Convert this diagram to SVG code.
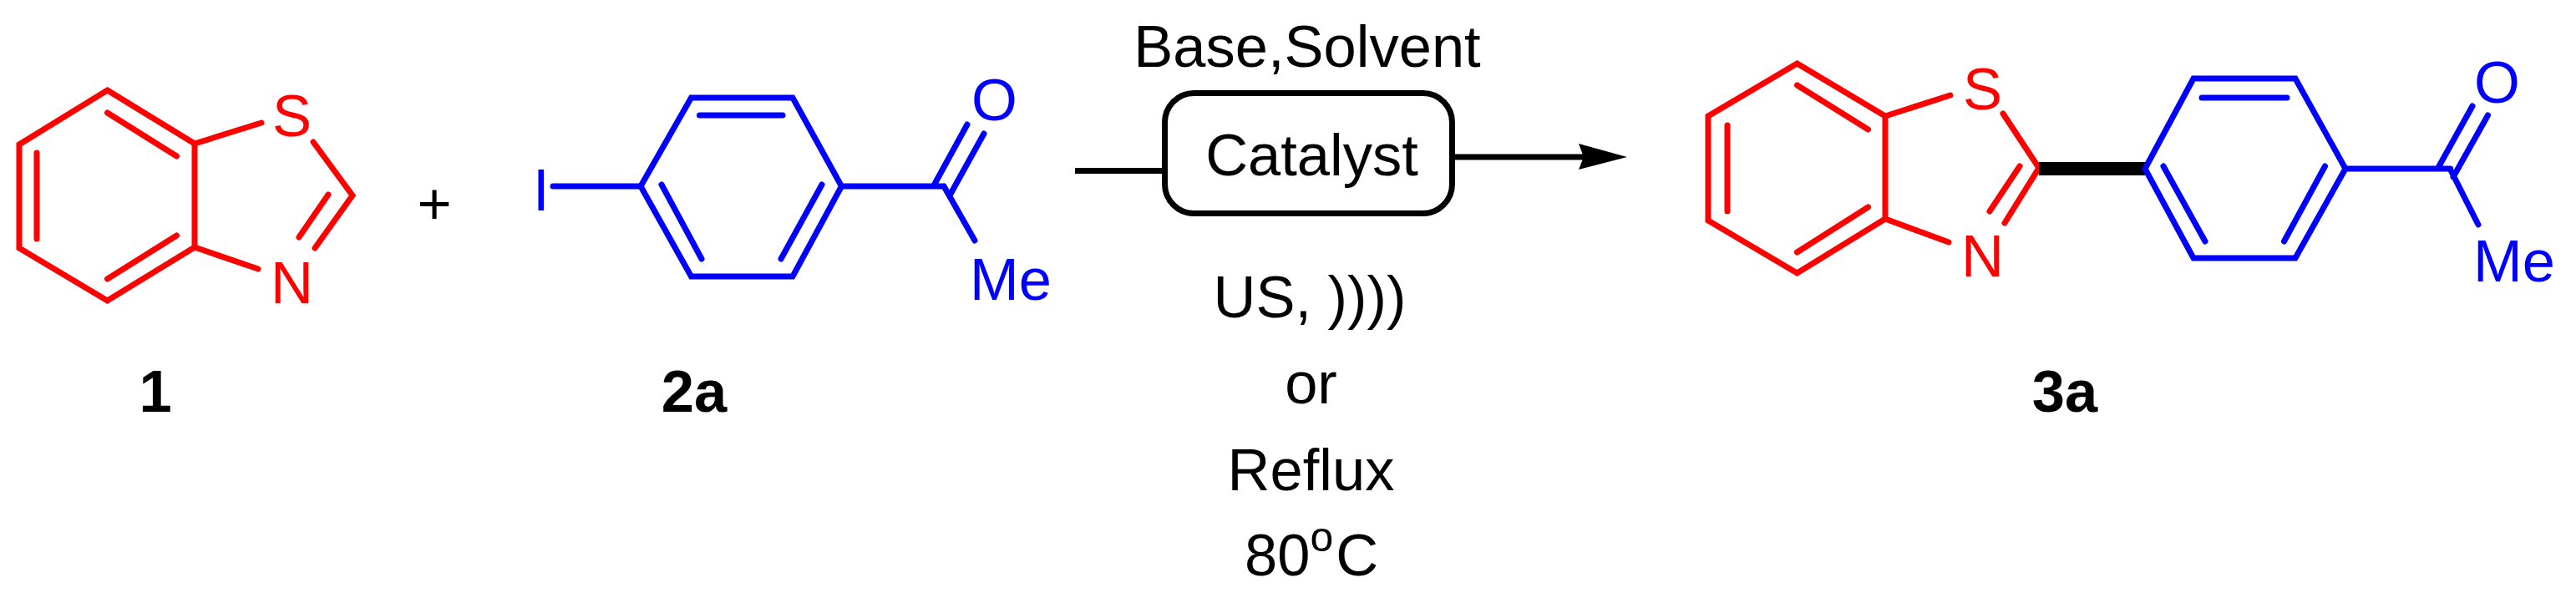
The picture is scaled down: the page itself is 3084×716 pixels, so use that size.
<svg xmlns="http://www.w3.org/2000/svg" width="3084" height="716" viewBox="0 0 3084 716">
<style>
.t{font-family:"Liberation Sans",Arial,sans-serif;font-size:70.5px;fill:#000}
.b{font-weight:bold}
.red .t{fill:#f00}
.blue .t{fill:#00f}
.m{text-anchor:middle}
.s{fill:none;stroke-width:7;stroke-linecap:round;stroke-linejoin:miter}
.red .s{stroke:#f00}
.blue .s{stroke:#00f}
.c{fill:none;stroke:#000;stroke-width:7}
</style>
<defs>
<marker id="arrow" markerUnits="userSpaceOnUse" markerWidth="60" markerHeight="34" refX="10" refY="16" orient="auto">
<path d="M0 0L58 16L0 31L6 16Z" fill="#000"/>
</marker>
</defs>
<rect width="3084" height="716" fill="#fff"/>
<g id="compound-1" class="red">
<path class="s" d="M128.5 108L233 172V296L128.5 360L23 297V173Z"/>
<path class="s" d="M128.5 135L211.5 187M211.5 282L128.5 334M44 183V286M233 172L313 147M233 296L309 322M375 170L422 234L377 297M393 233L358 284"/>
<text class="t" x="326" y="163">S</text>
<text class="t" x="324" y="363">N</text>
</g>
<g id="plus"><text class="t m" x="520" y="268">+</text></g>
<g id="compound-2a" class="blue">
<path class="s" d="M767 223L827.5 117H949L1007.5 223L949 331H827.5Z"/>
<path class="s" d="M837.5 138H937M792 221L840 310M984 221L935 310M662 223H767M1007.5 223H1130M1158 149L1118 222M1178 160L1137 234M1130 223L1167 288"/>
<text class="t" x="638" y="252">I</text>
<text class="t" x="1163" y="144">O</text>
<text class="t" x="1161" y="359">Me</text>
</g>
<g id="label-1"><text class="t b m" x="186" y="493">1</text></g>
<g id="label-2a"><text class="t b m" x="831" y="493">2a</text></g>
<g id="catalyst">
<rect class="c" x="1394.5" y="111.5" width="344" height="144" rx="35" ry="35"/>
<text class="t m" x="1570.5" y="210">Catalyst</text>
</g>
<g id="connectors">
<line class="c" x1="1287" y1="204.5" x2="1394" y2="204.5"/>
<line class="c" x1="1739" y1="188" x2="1900" y2="188" marker-end="url(#arrow)"/>
</g>
<g id="conditions">
<text class="t m" x="1565" y="79.5">Base,Solvent</text>
<text class="t m" x="1568" y="380">US, ))))</text>
<text class="t m" x="1569.5" y="483">or</text>
<text class="t m" x="1569.5" y="587">Reflux</text>
<text class="t" x="1490" y="689">80<tspan dy="-29" font-size="50">o</tspan><tspan dx="3" dy="29">C</tspan></text>
</g>
<g id="compound-3a">
<g class="red">
<path class="s" d="M2151.5 76L2257 139V262L2151.5 327L2045 264V139Z"/>
<path class="s" d="M2151.5 102L2236.5 155M2236.5 248L2151.5 302M2068 150V253M2257 139L2335 114M2257 262L2333 290M2398 136L2441 201L2400 267M2418 199L2382 253"/>
<text class="t" x="2350" y="131">S</text>
<text class="t" x="2348" y="331">N</text>
</g>
<line x1="2441" y1="202" x2="2568" y2="202" stroke="#000" stroke-width="16"/>
<g class="blue">
<path class="s" d="M2568 202L2626 94H2748L2808 202L2748 309H2626Z"/>
<path class="s" d="M2636 117H2738M2590 199L2640 289M2783.5 199L2734.5 289M2808 202H2933.6M2960 127L2920 199M2978.5 138L2937 212M2933.6 203L2967 269"/>
<text class="t" x="2962" y="123">O</text>
<text class="t" x="2961" y="337">Me</text>
</g>
</g>
<g id="label-3a"><text class="t b m" x="2472" y="493">3a</text></g>
</svg>
